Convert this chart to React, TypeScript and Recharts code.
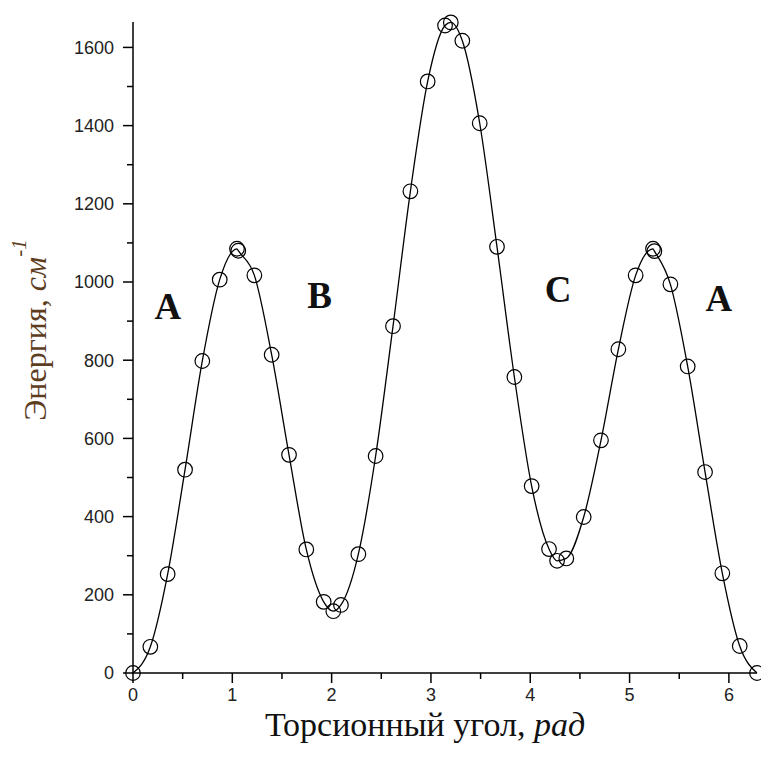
import { ComposedChart, Customized, Line, ReferenceDot, XAxis, YAxis } from "recharts";

// Torsion angle, rad (10° grid plus a few extra points around the extrema)
const ANGLE = [
  0, 0.1745, 0.349, 0.524, 0.698, 0.873, 1.047, 1.06, 1.222, 1.396, 1.571, 1.745,
  1.92, 2.017, 2.094, 2.269, 2.443, 2.618, 2.793, 2.967, 3.142, 3.2, 3.316, 3.491,
  3.665, 3.84, 4.014, 4.189, 4.27, 4.363, 4.538, 4.712, 4.887, 5.061, 5.236, 5.25,
  5.411, 5.585, 5.76, 5.934, 6.109, 6.283,
];
// Energy, cm^-1
const ENERGY = [
  0, 67, 253, 520, 798, 1006, 1085, 1080, 1017, 814, 558, 316,
  182, 158, 174, 304, 555, 887, 1232, 1513, 1656, 1664, 1617, 1406,
  1090, 757, 478, 317, 287, 293, 399, 595, 828, 1017, 1085, 1079,
  994, 784, 514, 255, 69, 0,
];

const X_TICKS = [0, 0.5, 1, 1.5, 2, 2.5, 3, 3.5, 4, 4.5, 5, 5.5, 6];
const Y_TICKS = [0, 100, 200, 300, 400, 500, 600, 700, 800, 900, 1000, 1100, 1200, 1300, 1400, 1500, 1600];

// conformer regions
const REGION_NAMES = ["A", "B", "C", "A"];
const REGION_X = [0.35, 1.88, 4.28, 5.9];
const REGION_Y = [940, 966, 983, 960];

const rows = ANGLE.map((a, i) => ({ angle: a, energy: ENERGY[i] }));

const TICK_FONT = "'Liberation Sans', Arial, sans-serif";
const SERIF = "'Liberation Serif', 'Times New Roman', serif";

function XTick({ x, y, payload }: any) {
  const major = Number.isInteger(payload.value);
  return (
    <g>
      <line x1={x} x2={x} y1={y} y2={y + (major ? 10 : 6)} stroke="#000" strokeWidth={1.5} />
      {major && (
        <text x={x} y={y + 28} textAnchor="middle" fontFamily={TICK_FONT} fontSize={18} fill="#222">
          {payload.value}
        </text>
      )}
    </g>
  );
}

function YTick({ x, y, payload }: any) {
  const major = payload.value % 200 === 0;
  return (
    <g>
      <line x1={x} x2={x - (major ? 10 : 6)} y1={y} y2={y} stroke="#000" strokeWidth={1.5} />
      {major && (
        <text x={x - 19} y={y} dy="0.36em" textAnchor="end" fontFamily={TICK_FONT} fontSize={18} fill="#222">
          {payload.value}
        </text>
      )}
    </g>
  );
}

function Ring({ cx, cy }: any) {
  return <circle cx={cx} cy={cy} r={7.3} fill="none" stroke="#000" strokeWidth={1.2} />;
}

function Titles() {
  return (
    <g>
      <text x={425} y={736} textAnchor="middle" fontFamily={SERIF} fontSize={34} fill="#111">
        Торсионный угол, <tspan fontStyle="italic">рад</tspan>
      </text>
      <text
        x={35}
        y={330}
        transform="rotate(-90 35 330)"
        textAnchor="middle"
        dominantBaseline="central"
        fontFamily={SERIF}
        fontSize={32}
        fill="#5e3d1f"
      >
        Энергия, <tspan fontStyle="italic">см</tspan>
        <tspan fontStyle="italic" fontSize={21} dy="-0.75em">-1</tspan>
      </text>
    </g>
  );
}

export default function App() {
  return (
    <div style={{ position: "absolute", left: 0, top: 0, width: 761, height: 760, background: "#fff" }}>
      <ComposedChart width={761} height={760} data={rows} margin={{ top: 22, right: 4, bottom: 27, left: 0 }}>
        <XAxis
          dataKey="angle"
          type="number"
          domain={[0, 6.283]}
          ticks={X_TICKS}
          interval={0}
          height={60}
          tickSize={0}
          tickMargin={0}
          tickLine={false}
          tick={<XTick />}
          axisLine={{ stroke: "#000", strokeWidth: 1.5 }}
        />
        <YAxis
          type="number"
          domain={[0, 1665]}
          ticks={Y_TICKS}
          interval={0}
          width={133}
          tickSize={0}
          tickMargin={0}
          tickLine={false}
          tick={<YTick />}
          axisLine={{ stroke: "#000", strokeWidth: 1.5 }}
        />
        <Line
          type="monotone"
          dataKey="energy"
          stroke="#000"
          strokeWidth={1.3}
          dot={<Ring />}
          activeDot={false}
          isAnimationActive={false}
        />
        {REGION_NAMES.map((name, i) => (
          <ReferenceDot
            key={i}
            x={REGION_X[i]}
            y={REGION_Y[i]}
            r={0}
            stroke="none"
            fill="none"
            label={{
              value: name,
              position: "center",
              fontFamily: SERIF,
              fontWeight: "bold",
              fontSize: 37,
              fill: "#111",
            }}
          />
        ))}
        <Customized component={Titles} />
      </ComposedChart>
    </div>
  );
}
